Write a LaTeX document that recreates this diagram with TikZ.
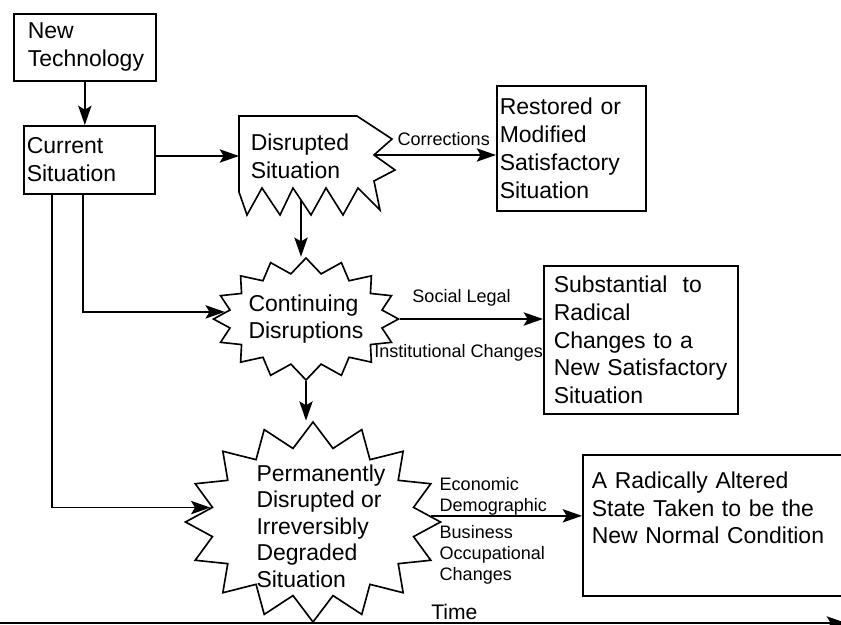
\documentclass[tikz,border=0pt]{standalone}
\usepackage{fontspec}
\setmainfont{Liberation Sans}
\usetikzlibrary{positioning,arrows.meta,shapes.symbols}
\hyphenpenalty=10000
\newcommand{\pxu}{0.15mm}

\begin{document}
\begin{tikzpicture}[x=\pxu,y=-\pxu,>={Stealth[length=2.9mm,width=2mm,inset=0.6mm]},line width=0.7pt,
  box/.style={draw,rectangle,anchor=north west,align=left,font=\fontsize{9.8}{11.9}\selectfont},
  burst/.style={draw,starburst,starburst points=16,random starburst=0},
  intext/.style={align=left,inner sep=0pt,font=\fontsize{9.8}{11.3}\selectfont},
  lbl/.style={align=left,inner sep=0pt,font=\fontsize{7.7}{9}\selectfont}]
\useasboundingbox (0,0) rectangle (841,625);

\node[box,minimum width=142*\pxu,minimum height=67*\pxu,inner xsep=14*\pxu,text width=114*\pxu] (newtech) at (13,13) {New\\Technology};
\node[box,minimum width=131*\pxu,minimum height=68*\pxu,inner xsep=3*\pxu,text width=125*\pxu] (cur) at (23,125) {Current\\Situation};
\node[box,minimum width=149*\pxu,minimum height=125*\pxu,inner xsep=3*\pxu,text width=143*\pxu] (res) at (496,85) {Restored or\\Modified\\Satisfactory\\Situation};
\node[box,minimum width=194*\pxu,minimum height=148*\pxu,inner xsep=10*\pxu,text width=174*\pxu] (sub) at (543,265) {Substantial\ \ to\\Radical\\Changes to a\\New~Satisfactory\\Situation};
\node[box,minimum width=290*\pxu,minimum height=141*\pxu,inner xsep=9*\pxu,text width=272*\pxu] (norm) at (582,454) {A Radically Altered\\State Taken to be the\\New Normal Condition\\[1.1mm]\mbox{}};

% disrupted situation
\draw (239,116) -- (357,116) -- (392,139) -- (374,155) coordinate (dis e) -- (395,170) -- (374,181) -- (380,210)
  -- (358,188) -- (343,215) -- (326,188) -- (311,215) -- (293,188) -- (280,215) -- (262,188) -- (247,215) -- (239,192) -- cycle;
\coordinate (dis w) at (239,156);
\coordinate (dis s) at (301,200);
\node[intext,anchor=north west,font=\fontsize{9.8}{11.9}\selectfont] (dis) at (250,133.5) {Disrupted\\Situation};

\node[burst,minimum width=27.75mm,minimum height=18.3mm,starburst point height=2.25mm,
  label={[name=cont text,intext]center:{Continuing\\Disruptions}}] (cont) at (306,319) {};
\node[burst,minimum width=38.25mm,minimum height=30mm,starburst point height=3.75mm,
  label={[name=perm text,intext,xshift=1.2mm,yshift=-0.6mm]center:{Permanently\\Disrupted or\\Irreversibly\\Degraded\\Situation}}] (perm) at (313,522) {};

\draw[->] (newtech.south) -- (newtech.south |- cur.north);
\draw[->] (cur.east |- dis w) -- (dis w);
\draw[->] (dis e) -- (dis e -| res.west) node[midway,lbl,anchor=base,xshift=1.3mm,yshift=1.5mm] (corr) {Corrections};
\draw[->] (dis s) -- (dis s |- cont.north);
\draw[->] ([xshift=9mm]cur.south west) |- (cont.175);
\draw[->] ([xshift=4.35mm]cur.south west) |- (perm.172);
\draw[->] (cont.east) -- (cont.east -| sub.west)
  node[midway,lbl,anchor=base,xshift=-1.5mm,yshift=2.55mm] (soc) {Social Legal}
  node[midway,lbl,anchor=base,xshift=-1.95mm,yshift=-5.7mm] (inst) {Institutional Changes};
\draw[->] (cont.south) -- (cont.south |- perm.north);
\draw[->] (perm.3) -- (perm.3 -| norm.west)
  node[pos=0,lbl,anchor=south west,xshift=1.2mm] (econ) {Economic\\Demographic}
  node[pos=0,lbl,anchor=north west,xshift=1.2mm,yshift=-1.35mm] (bus) {Business\\Occupational\\Changes};

\coordinate (t0) at (0,623);
\coordinate (t1) at (846,623);
\draw[->] (t0) -- (t1) node[pos=0.537,anchor=base,yshift=0.6mm,inner sep=0pt,font=\fontsize{9}{11}\selectfont] (time) {Time};
\end{tikzpicture}
\end{document}
